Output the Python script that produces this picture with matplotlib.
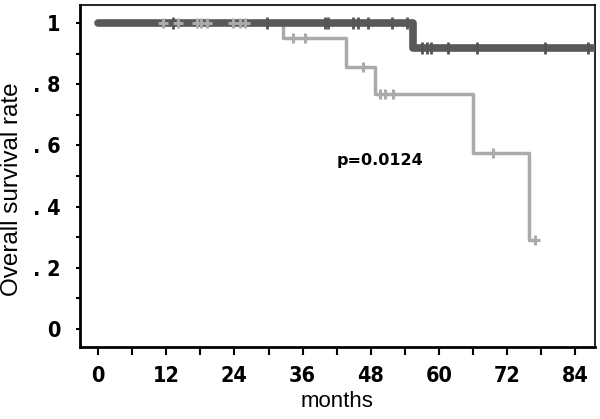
import numpy as np
import matplotlib
matplotlib.use("Agg")
import matplotlib.pyplot as plt
from matplotlib.font_manager import FontProperties

# group 1 (dark): step times / survival
dark_t = [0, 55.5, 87.5]
dark_s = [1.0, 0.918, 0.918]
dark_cens = [13.2, 29.8, 40.0, 40.5, 44.9, 45.8, 47.5, 51.8, 54.4,
             57.0, 57.9, 58.6, 61.6, 66.7, 78.7, 86.3]

# group 2 (light)
light_t = [0, 32.6, 43.7, 48.8, 66.0, 75.9, 77.0]
light_s = [1.0, 0.951, 0.856, 0.768, 0.575, 0.291, 0.291]
light_cens = [11.4, 14.1, 17.4, 18.1, 19.2, 23.8, 25.0, 25.9,
              34.3, 36.4, 46.7, 49.6, 50.5, 51.9, 69.5, 77.0]

xticks = [0, 12, 24, 36, 48, 60, 72, 84]
yticks = [0, 0.2, 0.4, 0.6, 0.8, 1.0]
ylabels = ['0', '. 2', '. 4', '. 6', '. 8', '1']


def surv_at(t, times, surv):
    i = np.searchsorted(times, t, side='right') - 1
    return surv[i]


fig = plt.figure(figsize=(6, 4.19), dpi=100)
ax = fig.add_axes([0.1333, 0.172, 0.8584, 0.816])

ax.step(light_t, light_s, where='post', color='#aaaaaa', lw=2.5, zorder=2)
ax.step(dark_t, dark_s, where='post', color='#595959', lw=5.5,
        solid_capstyle='round', solid_joinstyle='round', zorder=3)

ax.plot(dark_cens, [surv_at(t, dark_t, dark_s) for t in dark_cens], ls='none',
        marker='|', ms=9, mew=2, color='#555555', zorder=4)
ax.plot(light_cens, [surv_at(t, light_t, light_s) for t in light_cens], ls='none',
        marker='+', ms=7, mew=2.2, color='#aaaaaa', zorder=5)

ax.text(42, 0.552, 'p=0.0124', fontsize=11.5, fontweight='bold', va='center',
        family='DejaVu Sans')

ax.set_xlim(-3.2, 87.5)
ax.set_ylim(-0.059, 1.059)
ax.set_xticks(xticks)
ax.set_xticks(np.arange(6, 90, 12), minor=True)
ax.set_yticks(yticks)
ax.set_yticklabels(ylabels)
ax.set_yticks(np.arange(0.1, 1.0, 0.2), minor=True)

tick_fp = FontProperties(family='DejaVu Sans', weight='bold', stretch='condensed', size=15.5)
for lab in ax.get_xticklabels() + ax.get_yticklabels():
    lab.set_fontproperties(tick_fp)

ax.tick_params(axis='x', which='both', direction='out', length=6, width=1.5, pad=8)
ax.tick_params(axis='y', which='both', direction='out', length=3, width=1.5, pad=11)
for s in ['left', 'bottom']:
    ax.spines[s].set_linewidth(2)
for s in ['top', 'right']:
    ax.spines[s].set_linewidth(1.2)

lab_fp = FontProperties(family='Liberation Sans', stretch='normal', size=16)
ax.set_xlabel('months', fontproperties=lab_fp, labelpad=3)
ax.set_ylabel('Overall survival rate', fontproperties=FontProperties(family='Liberation Sans', stretch='normal', size=17.5))
ax.yaxis.set_label_coords(-0.111, 0.462)

fig.savefig('out.png', dpi=100)
